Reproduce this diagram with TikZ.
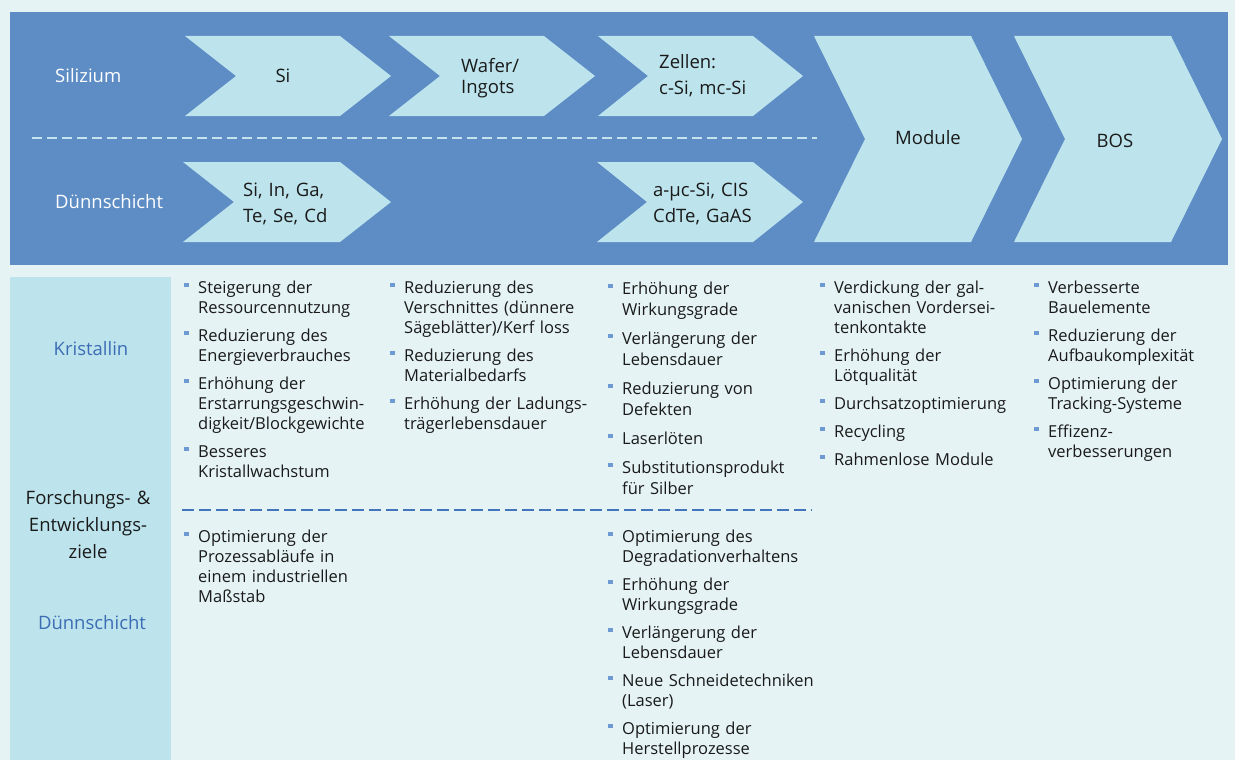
\documentclass[tikz,border=0pt]{standalone}
\usepackage{fontspec}
\setmainfont{Open Sans}
\definecolor{bg}{HTML}{E5F3F5}
\definecolor{topblue}{HTML}{5E8DC5}
\definecolor{lightc}{HTML}{BDE4EC}
\definecolor{labblue}{HTML}{3B6CB4}
\definecolor{bulc}{HTML}{6D9AD3}
\definecolor{botdashc}{HTML}{4275BD}
\definecolor{topdashc}{HTML}{C5E3ED}
\definecolor{txt}{HTML}{1A1A1A}
\newcommand\chev[5]{\fill[lightc] (#1,#2) -- ++(#3,0) -- ++(#5,#4/2) -- ++(-#5,#4/2) -- ++(-#3,0) -- ++(#5,-#4/2) -- cycle;}
\newcommand\bul[5][20]{%
  \fill[bulc] (#3-14,#4-10.5) rectangle ++(4.5,4.5);
  \node[blist,font=\fontsize{16.5}{#1}\selectfont] (#2) at (#3,#4) {#5};}
\begin{document}
\begin{tikzpicture}[x=1pt,y=-1pt,
  hdr/.style={font=\fontsize{18.5}{22}\selectfont, text=white, inner sep=0, anchor=base west},
  chevtxt/.style={font=\fontsize{18.5}{26}\selectfont, text=txt, inner sep=0, text width=200pt, align=left, anchor=base west},
  blist/.style={text=txt, inner sep=0, text width=260pt, align=left, anchor=base west},
  sidelab/.style={font=\fontsize{18.5}{27}\selectfont, inner sep=0, text width=160pt, align=center, anchor=base},
  topdash/.style={draw=topdashc, line width=1.8pt, dash pattern=on 10pt off 5pt},
  botdash/.style={draw=botdashc, line width=2.2pt, dash pattern=on 12pt off 5pt}]
\useasboundingbox (0,0) rectangle (1235,760);
\fill[bg] (0,0) rectangle (1235,760);
\fill[topblue] (10,12) rectangle (1228,265);
\fill[lightc] (10,277) rectangle (171,760);
% chevrons row 1
\chev{185}{36}{155}{80}{51}
\chev{389}{36}{155}{80}{51}
\chev{598}{36}{155}{80}{50}
% chevrons row 2
\chev{183}{162}{157}{80}{51}
\chev{597}{162}{156}{80}{50}
% big chevrons
\chev{814}{36}{157}{206}{51}
\chev{1014}{36}{157}{206}{51}
% top dashed separator
\coordinate (tdL) at (32,138);
\coordinate (tdR) at (817,138);
\draw[topdash] (tdL) -- (tdR);
% header labels
\node[hdr] (silizium) at (55,82.5) {Silizium};
\node[hdr] (duenn) at (55,208.5) {Dünnschicht};
% chevron texts
\node[font=\fontsize{18.5}{22}\selectfont, text=txt, inner sep=0, anchor=base] (si) at (283,82.5) {Si};
\node[chevtxt, font=\fontsize{18.5}{21}\selectfont] (wafer) at (461,72.5) {Wafer/\\Ingots};
\node[chevtxt] (zellen) at (659,68.5) {Zellen:\\c-Si, mc-Si};
\node[chevtxt] (rohst) at (243,196.5) {Si, In, Ga,\\Te, Se, Cd};
\node[chevtxt] (dzellen) at (653,196.5) {a-µc-Si, CIS\\CdTe, GaAS};
\node[font=\fontsize{18.5}{22}\selectfont, text=txt, inner sep=0, anchor=base] (module) at (928,144.5) {Module};
\node[font=\fontsize{18.5}{22}\selectfont, text=txt, inner sep=0, anchor=base] (bos) at (1115,147.5) {BOS};
% side labels
\node[sidelab, text=labblue] (kristallin) at (91,355.5) {Kristallin};
\node[sidelab, text=txt] (fe) at (88,504.5) {Forschungs- \&\\Entwicklungs-\\ziele};
\node[sidelab, text=labblue] (dschicht) at (92,629.5) {Dünnschicht};
% bottom dashed separator
\coordinate (bdL) at (182,510);
\coordinate (bdR) at (812,510);
\draw[botdash] (bdL) -- (bdR);
% column 1
\bul{k1a}{198}{293}{Steigerung der\\Ressourcennutzung}
\bul{k1b}{198}{341}{Reduzierung des\\Energieverbrauches}
\bul{k1c}{198}{389}{Erhöhung der\\Erstarrungsgeschwin-\\digkeit/Blockgewichte}
\bul{k1d}{198}{457}{Besseres\\Kristallwachstum}
% column 2
\bul{k2a}{404}{293}{Reduzierung des\\Verschnittes (dünnere\\Sägeblätter)/Kerf loss}
\bul{k2b}{404}{361}{Reduzierung des\\Materialbedarfs}
\bul{k2c}{404}{409}{Erhöhung der Ladungs-\\trägerlebensdauer}
% column 3
\bul[21]{k3a}{622}{294}{Erhöhung der\\Wirkungsgrade}
\bul[21]{k3b}{622}{344}{Verlängerung der\\Lebensdauer}
\bul[21]{k3c}{622}{394}{Reduzierung von\\Defekten}
\bul[21]{k3d}{622}{444}{Laserlöten}
\bul[21]{k3e}{622}{473}{Substitutionsprodukt\\für Silber}
% column 4
\bul{k4a}{834}{293}{Verdickung der gal-\\vanischen Vordersei-\\tenkontakte}
\bul{k4b}{834}{361}{Erhöhung der\\Lötqualität}
\bul{k4c}{834}{409}{Durchsatzoptimierung}
\bul{k4d}{834}{437}{Recycling}
\bul{k4e}{834}{465}{Rahmenlose Module}
% column 5
\bul{k5a}{1048}{293}{Verbesserte\\Bauelemente}
\bul{k5b}{1048}{341}{Reduzierung der\\Aufbaukomplexität}
\bul{k5c}{1048}{389}{Optimierung der\\Tracking-Systeme}
\bul{k5d}{1048}{437}{Effizenz-\\verbesserungen}
% thin film goals
\bul{d1a}{198}{542}{Optimierung der\\Prozessabläufe in\\einem industriellen\\Maßstab}
\bul{d3a}{622}{542}{Optimierung des\\Degradationverhaltens}
\bul{d3b}{622}{590}{Erhöhung der\\Wirkungsgrade}
\bul{d3c}{622}{638}{Verlängerung der\\Lebensdauer}
\bul{d3d}{622}{686}{Neue Schneidetechniken\\(Laser)}
\bul{d3e}{622}{734}{Optimierung der\\Herstellprozesse}
\end{tikzpicture}
\end{document}
